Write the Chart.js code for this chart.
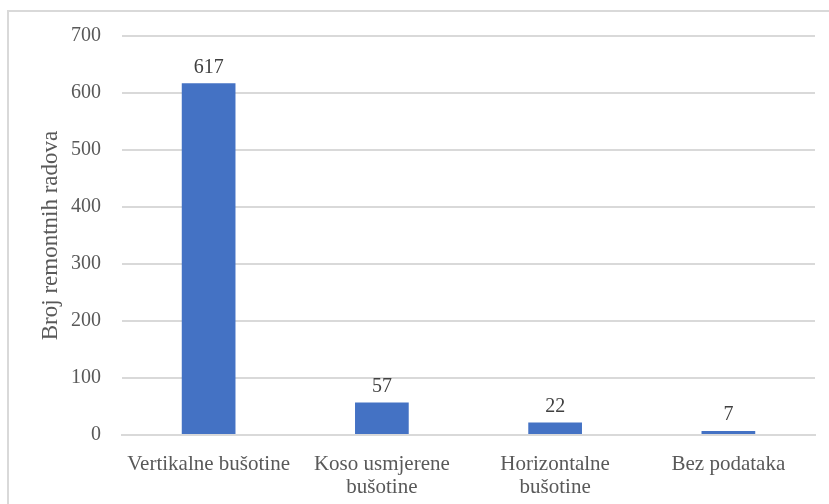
<!DOCTYPE html>
<html>
<head>
<meta charset="utf-8">
<script src="https://cdn.jsdelivr.net/npm/chart.js@4"></script>
<style>
  html, body { margin: 0; padding: 0; background: #fff; overflow: hidden; }
  #frame { position: absolute; left: 7px; top: 10px; width: 900px; height: 600px; border: 2px solid #d9d9d9; }
  #wrap { position: absolute; left: 0; top: 0; width: 829px; height: 504px; }
</style>
</head>
<body>
<div id="frame"></div>
<div id="wrap"><canvas id="barChart"></canvas></div>
<script>
// data
var categories = [
  'Vertikalne bušotine',
  ['Koso usmjerene', 'bušotine'],
  ['Horizontalne', 'bušotine'],
  'Bez podataka'
];
var workovers = [617, 57, 22, 7];
var yTicks = [0, 100, 200, 300, 400, 500, 600, 700];
var yTitle = 'Broj remontnih radova';

var serif = '"Liberation Serif", "Times New Roman", serif';

// writes the value above each bar
var valueLabels = {
  id: 'valueLabels',
  afterDatasetsDraw: function (chart) {
    var ctx = chart.ctx;
    var meta = chart.getDatasetMeta(0);
    ctx.save();
    ctx.font = '20px ' + serif;
    ctx.fillStyle = '#404040';
    ctx.textAlign = 'center';
    ctx.textBaseline = 'middle';
    meta.data.forEach(function (bar, i) {
      ctx.fillText(workovers[i], bar.x, bar.y - 16);
    });
    ctx.restore();
  }
};

new Chart(document.getElementById('barChart'), {
  type: 'bar',
  data: {
    labels: categories,
    datasets: [{
      label: yTitle,
      data: workovers,
      backgroundColor: '#4472C4',
      categoryPercentage: 1,
      barPercentage: 0.31
    }]
  },
  options: {
    responsive: true,
    maintainAspectRatio: false,
    animation: false,
    layout: { padding: { left: 37, right: 14, top: 36, bottom: 0 } },
    plugins: {
      legend: { display: false },
      tooltip: { enabled: false }
    },
    scales: {
      x: {
        grid: { display: false },
        border: { color: '#d9d9d9', width: 2 },
        ticks: { color: '#595959', font: { family: serif, size: 21, lineHeight: 1.1 }, padding: 10, maxRotation: 0 },
        afterFit: function (s) { s.height = 69; }
      },
      y: {
        min: 0,
        max: 700,
        afterBuildTicks: function (s) { s.ticks = yTicks.map(function (v) { return { value: v }; }); },
        grid: { color: '#d9d9d9', lineWidth: 2, drawTicks: false },
        border: { display: false },
        ticks: { color: '#595959', font: { family: serif, size: 20 }, padding: 21 },
        title: { display: true, text: yTitle, color: '#595959', font: { family: serif, size: 23 }, padding: 0 },
        afterFit: function (s) { s.width = 85; }
      }
    }
  },
  plugins: [valueLabels]
});
</script>
</body>
</html>
